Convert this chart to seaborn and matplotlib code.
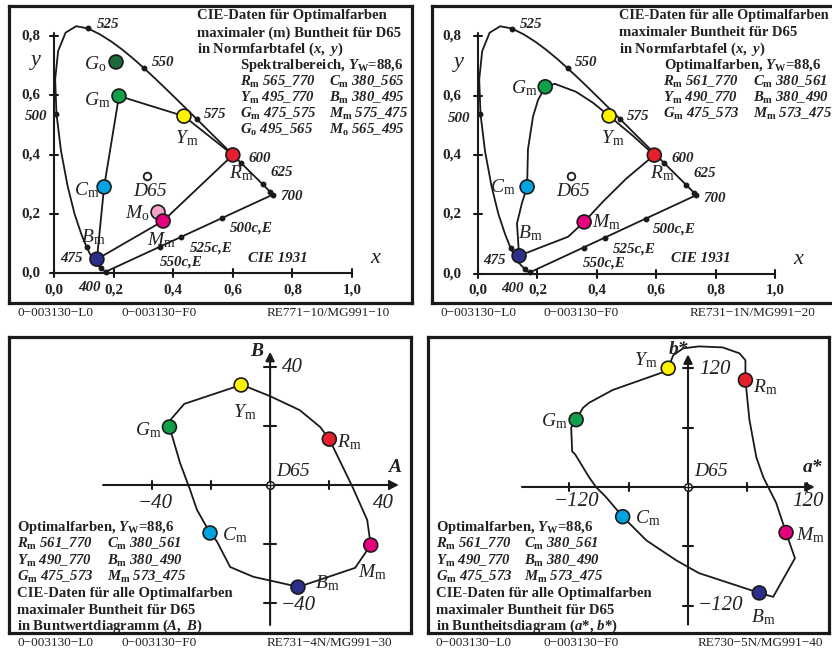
import numpy as np
import pandas as pd
import matplotlib
matplotlib.use('Agg')
import matplotlib.pyplot as plt
import seaborn as sns

sns.set_theme(style='white')
plt.rcParams['font.family'] = ['Liberation Serif', 'DejaVu Serif']
plt.rcParams['mathtext.fontset'] = 'custom'
plt.rcParams['mathtext.rm'] = 'Liberation Serif:bold'
plt.rcParams['mathtext.bf'] = 'Liberation Serif:bold'
plt.rcParams['mathtext.it'] = 'Liberation Serif:italic:bold'
plt.rcParams['mathtext.sf'] = 'Liberation Serif:italic'
plt.rcParams['mathtext.tt'] = 'Liberation Serif'
plt.rcParams['mathtext.cal'] = 'Liberation Serif:italic'

# ---------------- data ----------------
locus_wl = [380, 400, 420, 440, 450, 460, 465, 470, 475, 480, 485, 490, 495, 500, 505, 510,
            515, 520, 525, 530, 535, 540, 545, 550, 555, 560, 565, 570, 575, 580, 585, 590,
            595, 600, 605, 610, 620, 625, 630, 640, 650, 660, 680, 700]
locus_x = [0.1741, 0.1733, 0.1714, 0.1644, 0.1566, 0.1440, 0.1355, 0.1241, 0.1096, 0.0913,
           0.0687, 0.0454, 0.0235, 0.0082, 0.0039, 0.0139, 0.0389, 0.0743, 0.1142, 0.1547,
           0.1929, 0.2296, 0.2658, 0.3016, 0.3373, 0.3731, 0.4087, 0.4441, 0.4788, 0.5125,
           0.5448, 0.5752, 0.6029, 0.6270, 0.6482, 0.6658, 0.6915, 0.7006, 0.7079, 0.7190,
           0.7260, 0.7300, 0.7334, 0.7347]
locus_y = [0.0050, 0.0048, 0.0051, 0.0109, 0.0177, 0.0297, 0.0399, 0.0578, 0.0868, 0.1327,
           0.2007, 0.2950, 0.4127, 0.5384, 0.6548, 0.7502, 0.8120, 0.8338, 0.8262, 0.8059,
           0.7816, 0.7543, 0.7243, 0.6923, 0.6589, 0.6245, 0.5896, 0.5547, 0.5202, 0.4866,
           0.4544, 0.4242, 0.3965, 0.3725, 0.3514, 0.3340, 0.3083, 0.2993, 0.2920, 0.2809,
           0.2740, 0.2700, 0.2666, 0.2653]
dot_wl = [400, 450, 475, 500, 525, 550, 575, 600, 625, 650, 700]
purple_x = [0.356, 0.427, 0.564]
purple_y = [0.088, 0.122, 0.186]
d65_xy = (0.3127, 0.3290)

names6 = ['Rm', 'Ym', 'Gm', 'Cm', 'Bm', 'Mm']
colors = {'Rm': '#e5202e', 'Ym': '#fff200', 'Gm': '#10a04a', 'Cm': '#00a3e0',
          'Bm': '#2b2f8a', 'Mm': '#e5007d', 'Go': '#1c6a38', 'Mo': '#f2a3c8'}

# panel 1 (x, y) spectral range optimal colours
p1_names = ['Rm', 'Ym', 'Gm', 'Cm', 'Bm', 'Mm', 'Go', 'Mo']
p1_x = [0.600, 0.436, 0.218, 0.168, 0.144, 0.366, 0.208, 0.349]
p1_y = [0.399, 0.530, 0.598, 0.291, 0.047, 0.176, 0.713, 0.206]

# panel 2 (x, y) all optimal colours
p2_x = [0.593, 0.441, 0.226, 0.165, 0.138, 0.357]
p2_y = [0.400, 0.532, 0.630, 0.293, 0.061, 0.175]
p2_curve_x = [0.226, 0.258, 0.330, 0.387, 0.441, 0.520, 0.593, 0.500, 0.420, 0.357, 0.303,
              0.220, 0.138, 0.131, 0.148, 0.165, 0.168, 0.185, 0.202, 0.226]
p2_curve_y = [0.630, 0.640, 0.613, 0.576, 0.532, 0.466, 0.400, 0.322, 0.243, 0.175, 0.125,
              0.093, 0.061, 0.170, 0.240, 0.293, 0.420, 0.530, 0.586, 0.630]

# panel 3 (A, B)
p3_A = [20.0, -9.8, -34.0, -20.3, 9.4, 34.0]
p3_B = [15.5, 33.8, 19.6, -16.2, -34.5, -20.3]
p3_curve_A = [-9.8, -7.4, 0.0, 10.0, 16.9, 20.0, 28.0, 32.8, 34.0, 28.7, 9.4, 6.8, -5.7,
              -13.5, -18.0, -20.3, -24.7, -27.0, -30.4, -33.4, -34.0, -33.4, -29.0, -9.8]
p3_curve_B = [33.8, 33.0, 30.0, 25.3, 19.6, 15.5, -1.0, -11.8, -20.3, -28.0, -34.5, -33.8,
              -31.0, -27.7, -19.0, -16.2, -8.4, -1.7, 7.4, 17.6, 19.6, 22.3, 27.4, 33.8]
ab_ticks = [-40, -20, 20, 40]

# panel 4 (a*, b*)
p4_a = [58, -20, -113, -66, 72, 99]
p4_b = [108, 120, 68, -30, -107, -46]
p4_curve_a = [-20, -15, -5, 11, 35, 52, 58, 58, 62, 69, 76, 89, 99, 108, 86, 72, 11, -12,
              -42, -66, -83, -93, -100, -114, -117, -118, -113, -106, -100, -76, -25, -20]
p4_curve_b = [120, 133, 140, 142, 141, 135, 128, 108, 68, 30, 10, -16, -46, -72, -111, -107,
              -87, -74, -54, -30, -10, 0, 10, 33, 36, 60, 68, 80, 85, 98, 116, 120]
lab_ticks = [-120, -60, 60, 120]

xy_xticks = [0.0, 0.2, 0.4, 0.6, 0.8, 1.0]
xy_yticks = [0.0, 0.2, 0.4, 0.6, 0.8]

# ---------------- figure ----------------
W, H = 832, 651
fig = plt.figure(figsize=(W / 100, H / 100), dpi=100)
fig.patch.set_facecolor('white')
FAM = 'Liberation Serif'
INK = '#222222'
BT = 10.6      # bold text blocks
WL = 10.8      # wavelength labels
PL = 14        # point labels
TK = 15        # tick labels lower panels
LW = 1.3


def add_panel(x0, y0, x1, y1, xlim, ylim):
    ax = fig.add_axes([x0 / W, 1 - y1 / H, (x1 - x0) / W, (y1 - y0) / H])
    ax.set_xlim(*xlim)
    ax.set_ylim(*ylim)
    ax.set_xticks([])
    ax.set_yticks([])
    for s in ax.spines.values():
        s.set_visible(True)
        s.set_linewidth(2.3)
        s.set_color('#1a1a1a')
    ax.set_facecolor('white')
    return ax


def T(px, py, s, size=BT, weight='bold', style='normal', ha='left', va='center'):
    fig.text(px / W, 1 - py / H, s, fontsize=size, fontweight=weight, fontstyle=style,
             ha=ha, va=va, family=FAM, color=INK)


def curve(ax, xs, ys, lw=LW):
    sns.lineplot(x=xs, y=ys, sort=False, estimator=None, color='#1a1a1a', lw=lw, ax=ax)


def points(ax, xs, ys, nm, s=100):
    sns.scatterplot(x=xs, y=ys, hue=nm, palette={n: colors[n] for n in nm}, legend=False,
                    s=s, edgecolor='#1a1a1a', linewidth=1.2, zorder=5, ax=ax)


def clear(ax):
    ax.set_xlabel('')
    ax.set_ylabel('')


def plab(px, py, letter, sub, ha='left'):
    T(px, py, r'$\mathsf{%s}_\mathtt{%s}$' % (letter, sub), size=PL, weight='normal', ha=ha)


def xy_panel(ax, tickfs):
    k = 0.013
    curve(ax, [0.0, 1.0], [0.0, 0.0], lw=1.5)
    curve(ax, [0.0, 0.0], [0.0, 0.81], lw=1.5)
    for t in xy_xticks:
        ax.plot([t, t], [-k, k], color='#1a1a1a', lw=1.5)
    for t in xy_yticks:
        ax.plot([-k, k], [t, t], color='#1a1a1a', lw=1.5)
    for t in xy_xticks:
        ax.text(t, tickfs[0], ('%.1f' % t).replace('.', ','), ha='center', va='center',
                fontsize=10.8, fontweight='bold', family=FAM, color=INK)
    for t in xy_yticks:
        ax.text(tickfs[1], t, ('%.1f' % t).replace('.', ','), ha='right', va='center',
                fontsize=10.8, fontweight='bold', family=FAM, color=INK)
    # spectral locus (closed by purple line)
    curve(ax, locus_x + [locus_x[0]], locus_y + [locus_y[0]])
    dx = [locus_x[locus_wl.index(w)] for w in dot_wl] + purple_x
    dy = [locus_y[locus_wl.index(w)] for w in dot_wl] + purple_y
    sns.scatterplot(x=dx, y=dy, color='#1a1a1a', s=18, linewidth=0, zorder=4, ax=ax)
    sns.scatterplot(x=[d65_xy[0]], y=[d65_xy[1]], color='white', edgecolor='#1a1a1a',
                    s=30, linewidth=1.3, zorder=4, ax=ax)


def xy_labels(dx, dy=0):
    wl = [(97, 24, '525', 'left'), (152, 62, '550', 'left'), (204, 115, '575', 'left'),
          (248, 158, '600', 'left'), (270, 173, '625', 'left'), (280, 197, '700', 'left'),
          (47, 117, '500', 'right'), (83, 259, '475', 'right'), (89, 287, '400', 'center'),
          (230, 228, '500c,E', 'left'), (190, 248, '525c,E', 'left'),
          (160, 262, '550c,E', 'left'), (248, 258, 'CIE 1931', 'left')]
    for px, py, s, ha in wl:
        T(px + dx, py + dy, s, size=WL, style='italic', ha=ha)
    T(370 + dx, 258 + dy, 'x', size=16, weight='normal', style='italic')
    T(36 + dx, 61 + dy, 'y', size=16, weight='normal', style='italic', ha='center')


def table(x1, x2, ys, rows):
    for y, (a, b) in zip(ys, rows):
        T(x1, y, a, style='italic')
        T(x2, y, b, style='italic')


rows_all = [(r'$R_\mathrm{m}$ 561_770', r'$C_\mathrm{m}$ 380_561'),
            (r'$Y_\mathrm{m}$ 490_770', r'$B_\mathrm{m}$ 380_490'),
            (r'$G_\mathrm{m}$ 475_573', r'$M_\mathrm{m}$ 573_475')]

# ---------- panel 1 ----------
ax1 = add_panel(9, 6, 412, 303, (-0.151, 1.201), (-0.101, 0.902))
xy_panel(ax1, (-0.057, -0.047))
order = [0, 1, 2, 3, 4, 5, 0]
curve(ax1, [p1_x[i] for i in order], [p1_y[i] for i in order])
points(ax1, p1_x[6:][::-1], p1_y[6:][::-1], p1_names[6:][::-1])
points(ax1, p1_x[:6], p1_y[:6], p1_names[:6])
clear(ax1)
xy_labels(0)
T(197, 16, 'CIE-Daten für Optimalfarben')
T(197, 33, 'maximaler (m) Buntheit für D65')
T(197, 49, r'in Normfarbtafel $(x,\ y)$')
T(240, 65, r'Spektralbereich, $Y_\mathrm{W}$=88,6')
table(240, 329, [82, 98, 114, 130],
      [(r'$R_\mathrm{m}$ 565_770', r'$C_\mathrm{m}$ 380_565'),
       (r'$Y_\mathrm{m}$ 495_770', r'$B_\mathrm{m}$ 380_495'),
       (r'$G_\mathrm{m}$ 475_575', r'$M_\mathrm{m}$ 575_475'),
       (r'$G_\mathrm{o}$ 495_565', r'$M_\mathrm{o}$ 565_495')])
plab(106, 64, 'G', 'o', ha='right')
plab(111, 100, 'G', 'm', ha='right')
plab(187, 138, 'Y', 'm', ha='center')
plab(241, 173, 'R', 'm', ha='center')
plab(100, 190, 'C', 'm', ha='right')
T(150, 191, 'D65', size=PL, weight='normal', style='italic', ha='center')
plab(93, 237, 'B', 'm', ha='center')
plab(150, 213, 'M', 'o', ha='right')
plab(162, 240, 'M', 'm', ha='center')

# ---------- panel 2 ----------
ax2 = add_panel(432, 6, 840, 303, (-0.155, 1.218), (-0.098, 0.902))
xy_panel(ax2, (-0.054, -0.057))
curve(ax2, p2_curve_x, p2_curve_y)
points(ax2, p2_x, p2_y, names6)
clear(ax2)
xy_labels(423, 1)
T(619, 16, 'CIE-Daten für alle Optimalfarben', size=10.25)
T(619, 33, 'maximaler Buntheit für D65')
T(619, 49, r'in Normfarbtafel $(x,\ y)$')
T(664, 65, r'Optimalfarben, $Y_\mathrm{W}$=88,6')
table(663, 753, [82, 98, 114], rows_all)
plab(538, 88, 'G', 'm', ha='right')
plab(613, 138, 'Y', 'm', ha='center')
plab(662, 173, 'R', 'm', ha='center')
plab(516, 187, 'C', 'm', ha='right')
T(573, 191, 'D65', size=PL, weight='normal', style='italic', ha='center')
plab(530, 233, 'B', 'm', ha='center')
plab(592, 222, 'M', 'm')


def cross_axes(ax, ticks, xr, yr, kx, ky):
    ap = dict(arrowstyle='-|>', color='#1a1a1a', lw=1.5, mutation_scale=13, shrinkA=0, shrinkB=0)
    ax.annotate('', xy=(xr[1], 0), xytext=(xr[0], 0), arrowprops=ap)
    ax.annotate('', xy=(0, yr[1]), xytext=(0, yr[0]), arrowprops=ap)
    for t in ticks:
        ax.plot([t, t], [-ky, ky], color='#1a1a1a', lw=1.5)
        ax.plot([-kx, kx], [t, t], color='#1a1a1a', lw=1.5)
    sns.scatterplot(x=[0], y=[0], color='white', edgecolor='#1a1a1a', s=30, linewidth=1.1,
                    zorder=4, ax=ax)
    ax.plot([-kx * 0.9, kx * 0.9], [0, 0], color='#1a1a1a', lw=1.0, zorder=5)
    ax.plot([0, 0], [-ky * 0.9, ky * 0.9], color='#1a1a1a', lw=1.0, zorder=5)


# ---------- panel 3 ----------
ax3 = add_panel(9, 337, 411, 633, (-88.2, 47.6), (-50.0, 50.0))
cross_axes(ax3, ab_ticks, (-56.4, 43.5), (-47.3, 45.0), 1.9, 1.5)
curve(ax3, p3_curve_A, p3_curve_B)
points(ax3, p3_A, p3_B, names6)
clear(ax3)
T(257, 352, 'B', size=14, style='italic', ha='center')
T(282, 368, '40', size=TK, weight='normal', style='italic')
plab(245, 412, 'Y', 'm', ha='center')
plab(162, 430, 'G', 'm', ha='right')
plab(337, 442, 'R', 'm')
T(276, 472, 'D65', size=PL, weight='normal', style='italic')
T(395, 468, 'A', size=14, style='italic', ha='center')
T(155, 503, '\u221240', size=TK, weight='normal', style='italic', ha='center')
T(383, 503, '40', size=TK, weight='normal', style='italic', ha='center')
plab(222, 535, 'C', 'm')
plab(373, 572, 'M', 'm', ha='center')
plab(315, 583, 'B', 'm')
T(281, 606, '\u221240', size=TK, weight='normal', style='italic')
T(17, 527, r'Optimalfarben, $Y_\mathrm{W}$=88,6')
table(17, 107, [544, 561, 577], rows_all)
T(17, 593, 'CIE-Daten für alle Optimalfarben')
T(17, 610, 'maximaler Buntheit für D65')
T(17, 626, r'in Buntwertdiagramm $(A,\ B)$')

# ---------- panel 4 ----------
ax4 = add_panel(428, 337, 829, 633, (-262.6, 142.4), (-147.5, 151.5))
cross_axes(ax4, lab_ticks, (-167.7, 128.0), (-139.0, 134.0), 5.5, 4.5)
curve(ax4, p4_curve_a, p4_curve_b)
points(ax4, p4_a, p4_b, names6)
clear(ax4)
T(678, 349, 'b*', size=14, style='italic', ha='center')
plab(657, 360, 'Y', 'm', ha='right')
T(699, 369, '120', size=TK, weight='normal', style='italic')
plab(753, 387, 'R', 'm')
plab(568, 421, 'G', 'm', ha='right')
T(694, 472, 'D65', size=PL, weight='normal', style='italic')
T(813, 468, 'a*', size=14, style='italic', ha='center')
T(576, 502, '\u2212120', size=TK, weight='normal', style='italic', ha='center')
T(808, 502, '120', size=TK, weight='normal', style='italic', ha='center')
plab(635, 518, 'C', 'm')
plab(796, 535, 'M', 'm')
T(698, 606, '\u2212120', size=TK, weight='normal', style='italic')
plab(763, 617, 'B', 'm', ha='center')
T(436, 527, r'Optimalfarben, $Y_\mathrm{W}$=88,6')
table(436, 524, [544, 561, 577], rows_all)
T(436, 593, 'CIE-Daten für alle Optimalfarben')
T(436, 610, 'maximaler Buntheit für D65')
T(436, 626, r'in Buntheitsdiagram $(a$*, $b$*)')

# ---------- footers ----------
for (x, y, s) in [(17, 313, '0\u2212003130\u2212L0'), (122, 313, '0\u2212003130\u2212F0'),
                  (267, 313, 'RE771\u221210/MG991\u221210'),
                  (441, 313, '0\u2212003130\u2212L0'), (544, 313, '0\u2212003130\u2212F0'),
                  (690, 313, 'RE731\u22121N/MG991\u221220'),
                  (17, 643, '0\u2212003130\u2212L0'), (122, 643, '0\u2212003130\u2212F0'),
                  (267, 643, 'RE731\u22124N/MG991\u221230'),
                  (436, 643, '0\u2212003130\u2212L0'), (544, 643, '0\u2212003130\u2212F0'),
                  (698, 643, 'RE730\u22125N/MG991\u221240')]:
    T(x, y, s, size=9.5, weight='normal')

fig.savefig('out.png', dpi=100, facecolor='white')
